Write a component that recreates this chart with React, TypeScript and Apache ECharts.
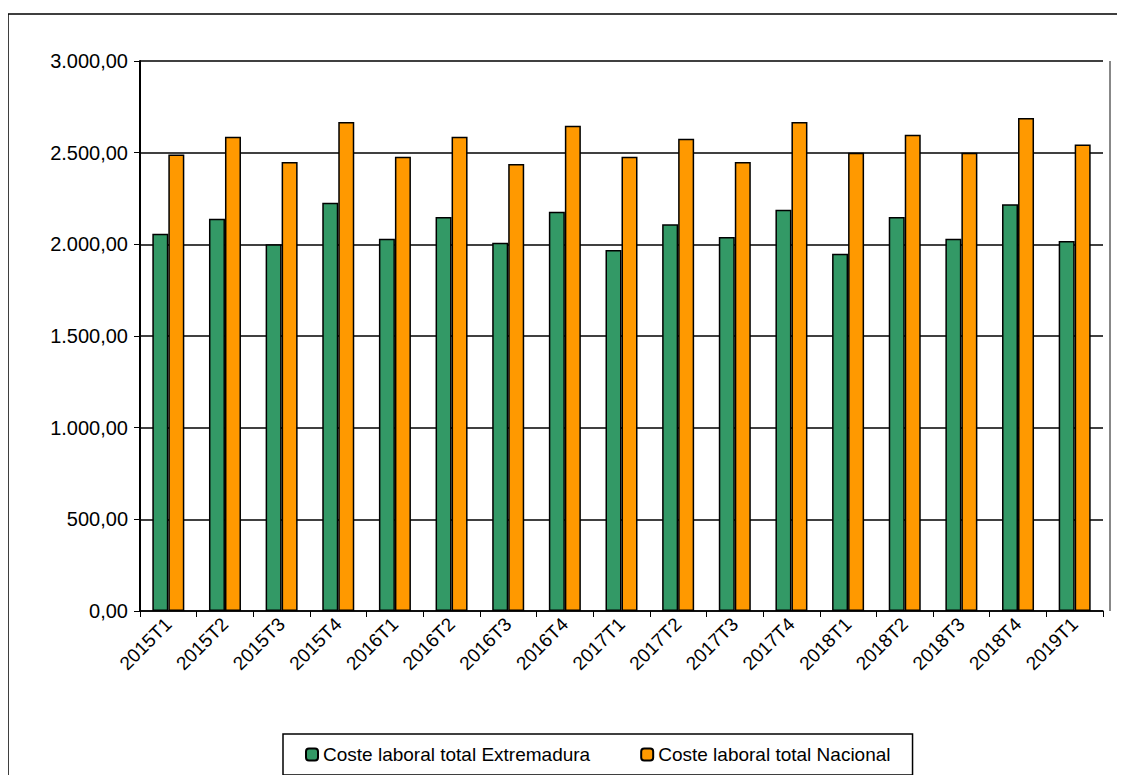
import React, { useEffect, useRef } from "react";
import * as echarts from "echarts";

const categories = ["2015T1","2015T2","2015T3","2015T4","2016T1","2016T2","2016T3","2016T4","2017T1","2017T2","2017T3","2017T4","2018T1","2018T2","2018T3","2018T4","2019T1"];
const extremadura = [2058,2140,2000,2227,2031,2149,2009,2178,1969,2109,2040,2189,1949,2149,2031,2218,2018];
const nacional = [2490,2587,2449,2667,2478,2587,2438,2647,2478,2576,2449,2667,2500,2598,2500,2689,2545];

const fmt = (v: number) => {
  const s = v.toFixed(2).split(".");
  return s[0].replace(/\B(?=(\d{3})+(?!\d))/g, ".") + "," + s[1];
};

export default function App() {
  const ref = useRef<HTMLDivElement>(null);
  useEffect(() => {
    const chart = echarts.init(ref.current!, null, { renderer: "svg" });
    const font = "'Liberation Sans', Arial, sans-serif";
    chart.setOption({
      animation: false,
      textStyle: { fontFamily: font },
      graphic: [
        { type: "rect", shape: { x: 0, y: 6, width: 1110, height: 780 }, style: { fill: "none", stroke: "#000", lineWidth: 1.5 } },
        { type: "rect", shape: { x: 1102, y: 53, width: 0, height: 550 }, style: { fill: "none", stroke: "#888", lineWidth: 2 } },
      ],
      grid: { left: 132, right: 15, top: 53, bottom: 164 },
      legend: {
        bottom: 0, left: 275,
        itemWidth: 12, itemHeight: 12, itemGap: 50,
        borderColor: "#000", borderWidth: 1.5, padding: [11, 22],
        textStyle: { fontSize: 19, fontFamily: font, color: "#000" },
        data: ["Coste laboral total Extremadura", "Coste laboral total Nacional"],
      },
      xAxis: {
        type: "category", data: categories,
        axisLine: { lineStyle: { color: "#000", width: 1.5 } },
        axisTick: { show: true, length: 6, lineStyle: { color: "#000" } },
        axisLabel: { rotate: 45, fontSize: 19, color: "#000", fontFamily: font, margin: 10 },
      },
      yAxis: {
        type: "value", min: 0, max: 3000, interval: 500,
        axisLine: { show: true, lineStyle: { color: "#000", width: 2 } },
        axisTick: { show: true, length: 6, lineStyle: { color: "#000" } },
        splitLine: { lineStyle: { color: "#000", width: 1.5 } },
        axisLabel: { fontSize: 20, color: "#000", fontFamily: font, formatter: fmt, margin: 12 },
      },
      series: [
        { name: "Coste laboral total Extremadura", type: "bar", data: extremadura, barWidth: 16, barGap: "0%",
          itemStyle: { color: "#339966", borderColor: "#000", borderWidth: 1.5 } },
        { name: "Coste laboral total Nacional", type: "bar", data: nacional, barWidth: 16,
          itemStyle: { color: "#FF9900", borderColor: "#000", borderWidth: 1.5 } },
      ],
    });
    return () => chart.dispose();
  }, []);
  return <div ref={ref} style={{ width: 1110, height: 767 }} />;
}
